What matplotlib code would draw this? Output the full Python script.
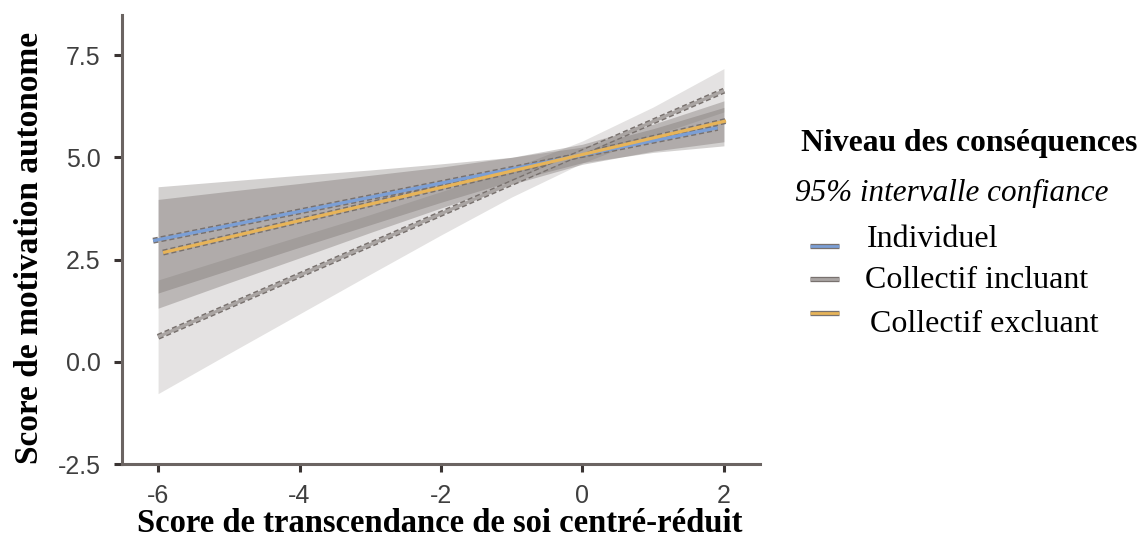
import matplotlib
matplotlib.use("Agg")
import matplotlib.pyplot as plt
from matplotlib.lines import Line2D

# ---------------- data ----------------
groups = ["Individuel", "Collectif incluant", "Collectif excluant"]
colors = {"Individuel": "#7b9fd6", "Collectif incluant": "#aaa5a3", "Collectif excluant": "#e7b459"}

# fitted lines (start / end points)
line_x = {
    "Individuel": [-6.07, 1.91],
    "Collectif incluant": [-6.0, 2.0],
    "Collectif excluant": [-5.93, 2.03],
}
line_y = {
    "Individuel": [2.96, 5.72],
    "Collectif incluant": [0.61, 6.63],
    "Collectif excluant": [2.67, 5.89],
}

# 95% confidence bands
band_x = [-6, -5, -4, -3, -2, -1, 0, 1, 2]
band_lo = {
    "Individuel": [1.68, 2.24, 2.80, 3.35, 3.90, 4.42, 4.87, 5.12, 5.28],
    "Collectif incluant": [-0.78, 0.20, 1.17, 2.14, 3.10, 4.03, 4.86, 5.53, 6.11],
    "Collectif excluant": [1.31, 1.93, 2.54, 3.16, 3.76, 4.34, 4.83, 5.15, 5.38],
}
band_hi = {
    "Individuel": [4.28, 4.42, 4.56, 4.69, 4.84, 5.00, 5.25, 5.70, 6.22],
    "Collectif incluant": [2.00, 2.54, 3.07, 3.60, 4.16, 4.73, 5.40, 6.23, 7.17],
    "Collectif excluant": [3.97, 4.17, 4.36, 4.56, 4.76, 5.00, 5.32, 5.81, 6.38],
}
band_alpha = {"Individuel": 0.27, "Collectif incluant": 0.17, "Collectif excluant": 0.30}

xticks = [-6, -4, -2, 0, 2]
yticks = [-2.5, 0.0, 2.5, 5.0, 7.5]

# ---------------- figure ----------------
W, H = 1144, 554
fig = plt.figure(figsize=(W / 100, H / 100), dpi=100)
ax = fig.add_axes([122 / W, 1 - 464 / H, (760 - 122) / W, (464 - 15) / H])

band_color = "#5f5653"
for g in ["Collectif incluant", "Individuel", "Collectif excluant"]:
    ax.fill_between(band_x, band_lo[g], band_hi[g], color=band_color,
                    alpha=band_alpha[g], linewidth=0, zorder=1)

edge_col = "#78716e"
for g in ["Collectif incluant", "Individuel", "Collectif excluant"]:
    ax.plot(line_x[g], line_y[g], color=edge_col, lw=4.3, dashes=(0.85, 0.5),
            solid_capstyle="butt", dash_capstyle="butt", zorder=3)
    ax.plot(line_x[g], line_y[g], color=colors[g], lw=2.3,
            solid_capstyle="butt", zorder=4)

ax.set_xlim(-6.51, 2.51)
ax.set_ylim(-2.5, 8.48)
ax.set_xticks(xticks)
ax.set_yticks(yticks)
ax.set_xticklabels([f"{t:d}" for t in xticks])
ax.set_yticklabels([f"{t:.1f}" for t in yticks])

for s in ["top", "right"]:
    ax.spines[s].set_visible(False)
for s in ["left", "bottom"]:
    ax.spines[s].set_color("#6b6462")
    ax.spines[s].set_linewidth(2.2)

ax.tick_params(axis="both", length=5.5, width=2.2, color="#3a3433",
               labelcolor="#3f3f3f", direction="out")
ax.tick_params(axis="y", pad=10)
ax.tick_params(axis="x", pad=9)
for lab in ax.get_xticklabels() + ax.get_yticklabels():
    lab.set_fontfamily(["Liberation Sans", "DejaVu Sans"])
    lab.set_fontsize(18)

serif = ["Liberation Serif", "DejaVu Serif"]
fig.text(440 / W, 1 - 523 / H, "Score de transcendance de soi centré-réduit",
         ha="center", va="center", fontfamily=serif, fontweight="bold",
         fontsize=23.5, color="black")
fig.text(30 / W, 1 - 248 / H, "Score de motivation autonome",
         ha="center", va="center", rotation=90, fontfamily=serif,
         fontweight="bold", fontsize=24, color="black")

# ---------------- legend (custom) ----------------
fig.text(801 / W, 1 - 143 / H, "Niveau des conséquences", ha="left", va="center",
         fontfamily=serif, fontweight="bold", fontsize=22.8, color="black")
fig.text(795 / W, 1 - 193 / H, "95% intervalle confiance", ha="left", va="center",
         fontfamily=serif, style="italic", fontsize=22.4, color="black")

leg_handle_y = {"Individuel": 246, "Collectif incluant": 279, "Collectif excluant": 313}
leg_text = {"Individuel": (867, 240), "Collectif incluant": (865, 280),
            "Collectif excluant": (870, 325)}
for g in groups:
    yy = 1 - leg_handle_y[g] / H
    fig.add_artist(Line2D([810 / W, 839 / W], [yy, yy], color=edge_col, lw=3.8,
                          solid_capstyle="butt", transform=fig.transFigure))
    fig.add_artist(Line2D([810 / W, 839 / W], [yy, yy], color=colors[g], lw=2.0,
                          solid_capstyle="butt", transform=fig.transFigure))
    tx, ty = leg_text[g]
    fig.text(tx / W, 1 - ty / H, g, ha="left", va="center", fontfamily=serif,
             fontsize=23, color="black")

fig.savefig("out.png", dpi=100)
